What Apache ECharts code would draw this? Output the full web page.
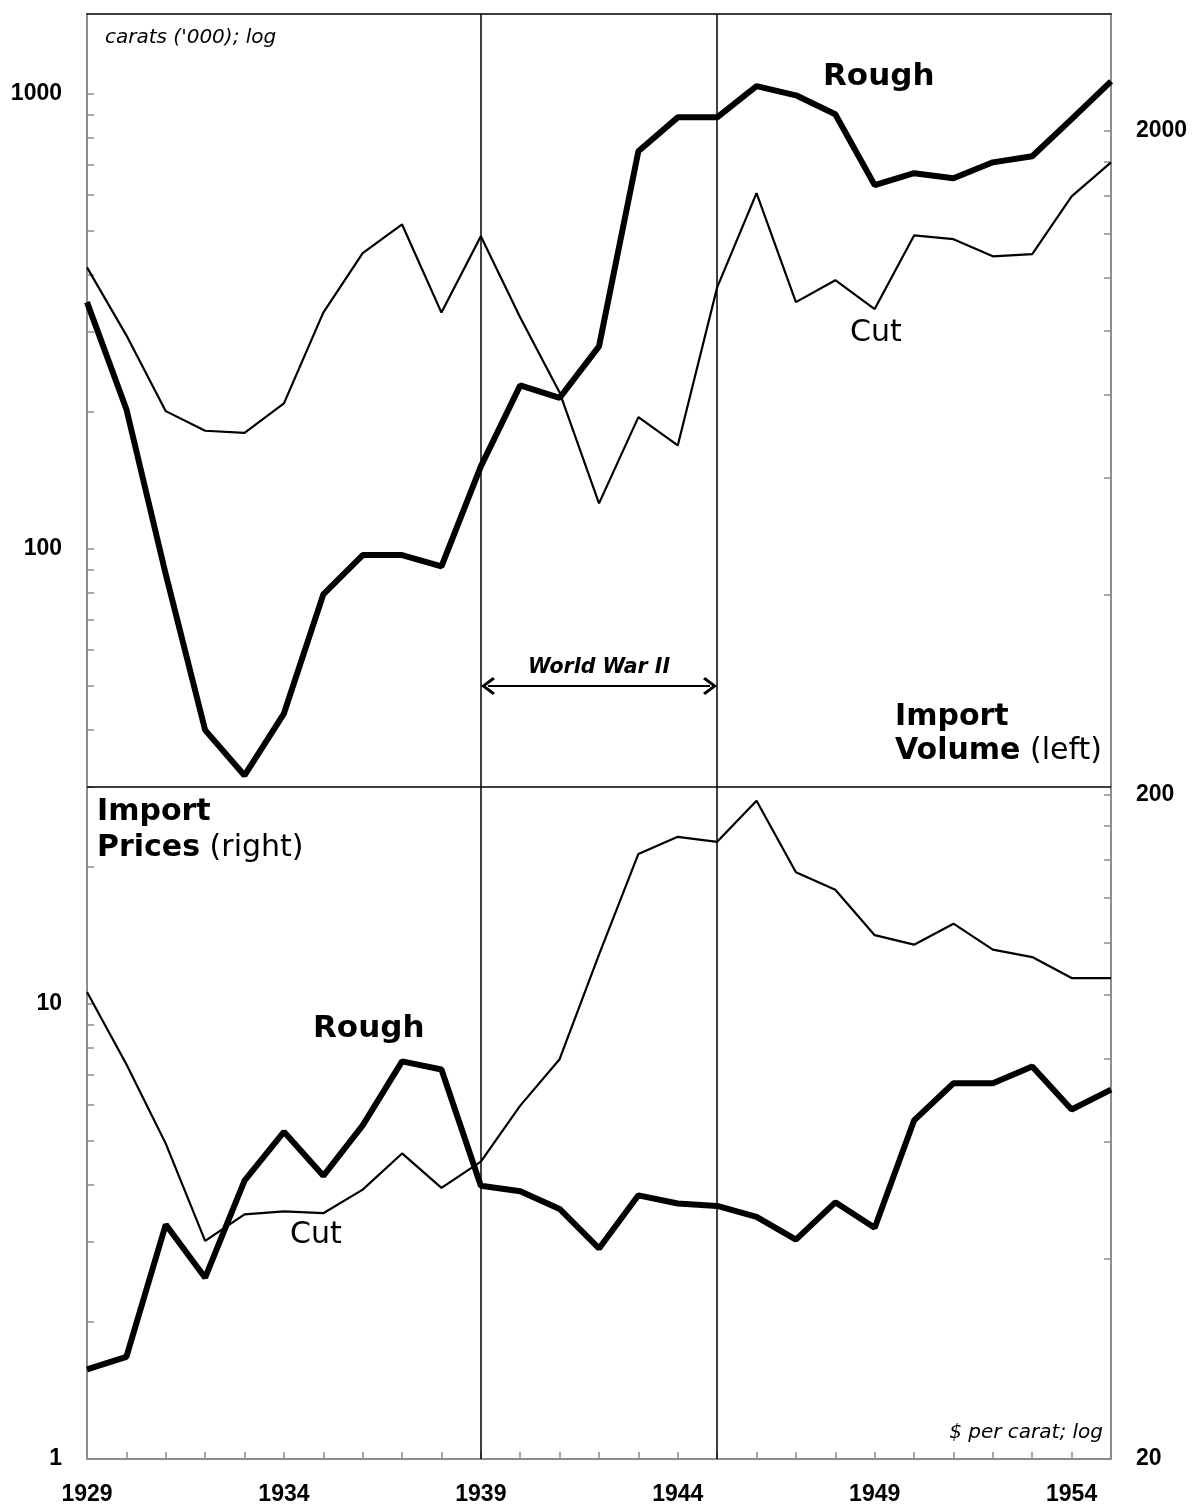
<!DOCTYPE html>
<html>
<head>
<meta charset="utf-8">
<script src="https://cdn.jsdelivr.net/npm/echarts@6/dist/echarts.min.js"></script>
<style>
html,body{margin:0;padding:0;background:#fff;}
#chart{width:1195px;height:1509px;}
</style>
</head>
<body>
<div id="chart"></div>
<script>
// ---- data ----
const years = [1929,1930,1931,1932,1933,1934,1935,1936,1937,1938,1939,1940,1941,1942,1943,1944,1945,1946,1947,1948,1949,1950,1951,1952,1953,1954,1955];
// Import volume, carats ('000) - left log axis
const roughVolume = [349,203,88,40,31.8,43.5,79.5,97,97,91.6,152,229,215,279,749,889,889,1041,994,903,631,670,653,708,730,881,1067];
const cutVolume   = [416,295,201,182,180,209,331,447,517,331,487,323,221,126,195,169,376,606,349,390,337,489,480,440,445,596,708];
// Import prices, $ per carat - right log axis
const roughPrice  = [27.3,28.5,45.1,37.5,52.5,62.2,53.4,63.6,79.4,77.2,51.6,50.6,47.6,41.5,49.9,48.5,48.1,46.3,42.8,48.7,44.6,64.7,73.6,73.6,78.0,67.2,72.0];
const cutPrice    = [101,78.6,59.7,42.6,46.7,47.2,46.9,50.9,57.7,51.2,56.1,68.1,80.0,115,163,173,170,196,153,144,123,119,128,117,114,106,106];
// tick labels / tick marks
const xTickLabels = [1929,1934,1939,1944,1949,1954];
const leftTickLabels = [1,10,100,1000];
const leftTickMarks = [1,2,3,4,5,6,7,8,9,10,20,30,40,50,60,70,80,90,100,200,300,400,500,600,700,800,900,1000];
const rightTickLabels = [20,200,2000];
const rightTickMarks = [20,40,60,80,100,120,140,160,180,200,400,600,800,1000,1200,1400,1600,1800,2000];

const pair = (vals) => years.map((y, i) => [y, vals[i]]);

const AX = '#8c8c8c';
const LBL = {fontFamily: '"Liberation Sans", Arial, sans-serif', fontSize: 23, fontWeight: 'bold', color: '#000',
             formatter: (v) => String(Math.round(v))};
const ANN = '"DejaVu Sans", Verdana, sans-serif';

const chevron = 'path://M5,0 L10,7 L8.8,8.2 L5,2.8 L1.2,8.2 L0,7 Z';

const chart = echarts.init(document.getElementById('chart'), null, {renderer: 'canvas'});
chart.setOption({
  animation: false,
  backgroundColor: '#fff',
  grid: {left: 87, right: 84, top: 14, bottom: 50, containLabel: false},
  xAxis: [
    {
      type: 'value', min: 1929, max: 1955, interval: 1, position: 'bottom',
      axisLine: {show: true, onZero: false, lineStyle: {color: AX, width: 2}},
      axisTick: {show: true, inside: true, length: 7, lineStyle: {color: AX, width: 1.5}},
      axisLabel: Object.assign({customValues: xTickLabels, margin: 24}, LBL),
      splitLine: {show: false}
    },
    {
      type: 'value', min: 1929, max: 1955, position: 'top',
      axisLine: {show: true, onZero: false, lineStyle: {color: '#000', width: 1.5}},
      axisTick: {show: false}, axisLabel: {show: false}, splitLine: {show: false}
    }
  ],
  yAxis: [
    {
      type: 'log', logBase: 10, min: 1, max: 1500, position: 'left',
      axisLine: {show: true, onZero: false, lineStyle: {color: AX, width: 2}},
      axisTick: {show: true, inside: true, length: 7, customValues: leftTickMarks, lineStyle: {color: AX, width: 1.5}},
      axisLabel: Object.assign({customValues: leftTickLabels, margin: 25}, LBL),
      splitLine: {show: false}
    },
    {
      type: 'log', logBase: 10, min: 20, max: 3000, position: 'right',
      axisLine: {show: true, onZero: false, lineStyle: {color: AX, width: 2}},
      axisTick: {show: true, inside: true, length: 7, customValues: rightTickMarks, lineStyle: {color: AX, width: 1.5}},
      axisLabel: Object.assign({customValues: rightTickLabels, margin: 25}, LBL),
      splitLine: {show: false}
    }
  ],
  series: [
    {
      name: 'Rough volume', type: 'line', xAxisIndex: 0, yAxisIndex: 0,
      data: pair(roughVolume), showSymbol: false, symbol: 'none',
      lineStyle: {color: '#000', width: 6}, z: 5,
      markLine: {
        silent: true, symbol: 'none', animation: false,
        lineStyle: {color: '#000', width: 1.5, type: 'solid'},
        label: {show: false},
        data: [{xAxis: 1939}, {xAxis: 1945}, {yAxis: 30}]
      }
    },
    {
      name: 'Cut volume', type: 'line', xAxisIndex: 0, yAxisIndex: 0,
      data: pair(cutVolume), showSymbol: false, symbol: 'none',
      lineStyle: {color: '#000', width: 2.2}, z: 4,
      markLine: {
        silent: true, animation: false,
        data: [[
          {coord: [1939.18, 50], symbol: chevron, symbolSize: [18, 14],
           lineStyle: {color: '#000', width: 2, type: 'solid'},
           label: {show: true, position: 'insideMiddleTop', formatter: 'World War II', distance: 8,
                   fontFamily: ANN, fontSize: 20.5, fontWeight: 'bold', fontStyle: 'italic', color: '#000'}},
          {coord: [1944.82, 50], symbol: chevron, symbolSize: [18, 14]}
        ]]
      }
    },
    {
      name: 'Rough price', type: 'line', xAxisIndex: 0, yAxisIndex: 1,
      data: pair(roughPrice), showSymbol: false, symbol: 'none',
      lineStyle: {color: '#000', width: 6}, z: 5
    },
    {
      name: 'Cut price', type: 'line', xAxisIndex: 0, yAxisIndex: 1,
      data: pair(cutPrice), showSymbol: false, symbol: 'none',
      lineStyle: {color: '#000', width: 2.2}, z: 4
    }
  ],
  graphic: [
    {type: 'text', silent: true, style: {x: 105, y: 38, text: "carats ('000); log", font: 'italic 20px ' + ANN, fill: '#000', textAlign: 'left', textVerticalAlign: 'middle'}},
    {type: 'text', silent: true, style: {x: 1103, y: 1433, text: '$ per carat; log', font: 'italic 20px ' + ANN, fill: '#000', textAlign: 'right', textVerticalAlign: 'middle'}},
    {type: 'text', silent: true, style: {x: 823, y: 77, text: 'Rough', font: 'bold 31px ' + ANN, fill: '#000', textAlign: 'left', textVerticalAlign: 'middle'}},
    {type: 'text', silent: true, style: {x: 850, y: 333, text: 'Cut', font: '30px ' + ANN, fill: '#000', textAlign: 'left', textVerticalAlign: 'middle'}},
    {type: 'text', silent: true, style: {x: 313, y: 1029, text: 'Rough', font: 'bold 31px ' + ANN, fill: '#000', textAlign: 'left', textVerticalAlign: 'middle'}},
    {type: 'text', silent: true, style: {x: 290, y: 1235, text: 'Cut', font: '30px ' + ANN, fill: '#000', textAlign: 'left', textVerticalAlign: 'middle'}},
    {type: 'text', silent: true, style: {x: 895, y: 717, text: 'Import', font: 'bold 30px ' + ANN, fill: '#000', textAlign: 'left', textVerticalAlign: 'middle'}},
    {type: 'text', silent: true, style: {x: 895, y: 751, text: '{b|Volume}{r| (left)}', font: 'bold 30px ' + ANN, fill: '#000', textAlign: 'left', textVerticalAlign: 'middle',
      rich: {b: {font: 'bold 30px ' + ANN, fill: '#000'}, r: {font: '30px ' + ANN, fill: '#000'}}}},
    {type: 'text', silent: true, style: {x: 97, y: 812, text: 'Import', font: 'bold 30px ' + ANN, fill: '#000', textAlign: 'left', textVerticalAlign: 'middle'}},
    {type: 'text', silent: true, style: {x: 97, y: 848, text: '{b|Prices}{r| (right)}', font: 'bold 30px ' + ANN, fill: '#000', textAlign: 'left', textVerticalAlign: 'middle',
      rich: {b: {font: 'bold 30px ' + ANN, fill: '#000'}, r: {font: '30px ' + ANN, fill: '#000'}}}}
  ]
});
</script>
</body>
</html>
